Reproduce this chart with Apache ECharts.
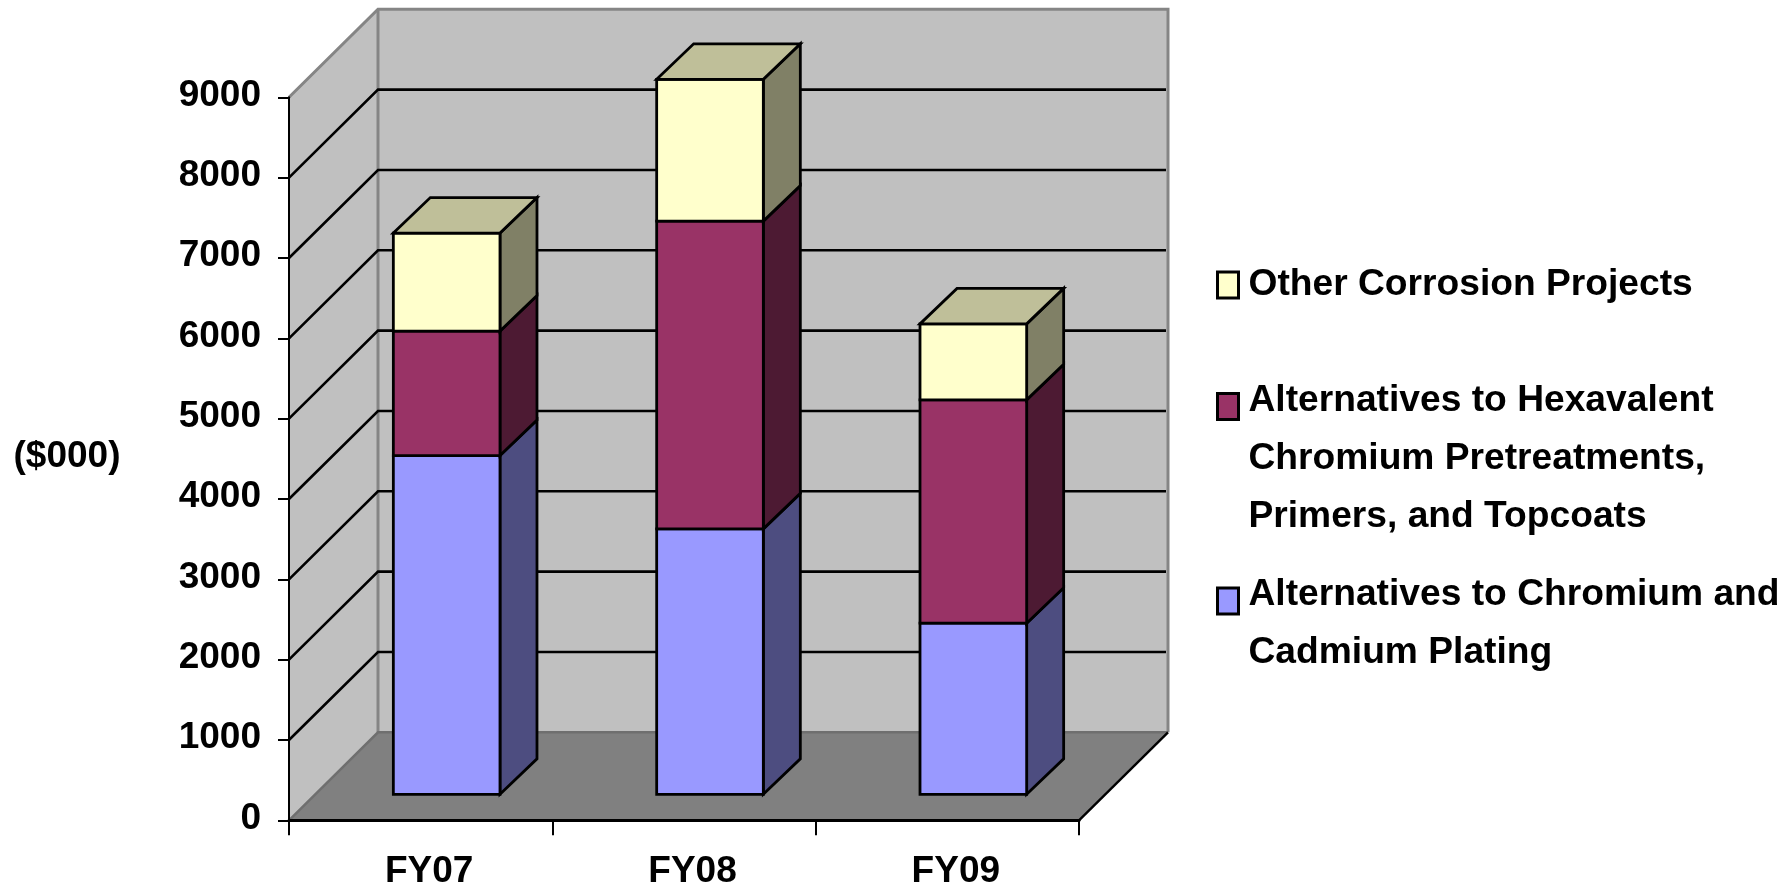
<!DOCTYPE html>
<html><head><meta charset="utf-8">
<style>html,body{margin:0;padding:0;background:#fff}#c{width:1784px;height:886px}</style>
<script src="https://cdn.jsdelivr.net/npm/echarts@6/dist/echarts.min.js"></script>
</head><body><div id="c"></div>
<script>
const categories = ['FY07', 'FY08', 'FY09'];
const yTicks = [0, 1000, 2000, 3000, 4000, 5000, 6000, 7000, 8000, 9000];
const platingValues = [4217, 3304, 2130];
const hexavalentValues = [1549, 3831, 2780];
const otherValues = [1220, 1765, 946];
const platingName = 'Alternatives to Chromium and Cadmium Plating';
const hexavalentName = 'Alternatives to Hexavalent Chromium Pretreatments, Primers, and Topcoats';
const otherName = 'Other Corrosion Projects';
const platingLines = ['Alternatives to Chromium and', 'Cadmium Plating'];
const hexavalentLines = ['Alternatives to Hexavalent', 'Chromium Pretreatments,', 'Primers, and Topcoats'];
const otherLines = ['Other Corrosion Projects'];

const FONT = '"Liberation Sans", Arial, sans-serif';
const FS = 37;
const WALL_DX = 89, WALL_DY = 88;
const BAR_SHIFT = 26, BAR_DX = 37, BAR_DY = 35.5, BAR_W = 0.405;

function plane(api) {
  const band = api.size([1, 0])[0];
  const l = api.coord([0, 0])[0] - band / 2;
  const r = api.coord([2, 0])[0] + band / 2;
  return { l, r, y0: api.coord([0, 0])[1], yT: api.coord([0, 9000])[1] };
}
function renderWalls(params, api) {
  const { l, r, y0, yT } = plane(api);
  const dx = WALL_DX, dy = WALL_DY;
  const edge = { stroke: '#858585', lineWidth: 3, fill: null };
  return { type: 'group', children: [
    { type: 'polygon', shape: { points: [[l + dx, yT - dy], [r + dx, yT - dy], [r + dx, y0 - dy], [l + dx, y0 - dy]] }, style: { fill: '#C0C0C0' } },
    { type: 'polygon', shape: { points: [[l, yT], [l + dx, yT - dy], [l + dx, y0 - dy], [l, y0]] }, style: { fill: '#C0C0C0' } },
    { type: 'polygon', shape: { points: [[l, y0], [r, y0], [r + dx, y0 - dy], [l + dx, y0 - dy]] }, style: { fill: '#808080' } },
    { type: 'polyline', shape: { points: [[l, yT], [l + dx, yT - dy], [r + dx, yT - dy], [r + dx, y0 - dy]] }, style: edge },
    { type: 'line', shape: { x1: l + dx, y1: yT - dy, x2: l + dx, y2: y0 - dy }, style: edge },
    { type: 'polyline', shape: { points: [[l, y0], [l + dx, y0 - dy], [r + dx, y0 - dy]] }, style: { stroke: '#6f6f6f', lineWidth: 2.5, fill: null } },
    { type: 'line', shape: { x1: r + dx, y1: y0 - dy, x2: r, y2: y0 }, style: { stroke: '#000', lineWidth: 2.4 } }
  ] };
}
function renderGrid(params, api) {
  const { l, r } = plane(api);
  const y = api.coord([0, api.value(0)])[1];
  return { type: 'polyline', shape: { points: [[l, y], [l + WALL_DX, y - WALL_DY], [r + WALL_DX - 2, y - WALL_DY]] },
    style: { stroke: '#000', lineWidth: 2.6, fill: null } };
}
function barRenderer(front, side, topColor) {
  return function (params, api) {
    const band = api.size([1, 0])[0];
    const c = api.coord([api.value(0), 0])[0];
    const w = band * BAR_W;
    const x1 = c + BAR_SHIFT - w / 2, x2 = x1 + w;
    const yL = api.coord([0, api.value(1)])[1] - BAR_SHIFT;
    const yH = api.coord([0, api.value(2)])[1] - BAR_SHIFT;
    const line = { stroke: '#000', lineWidth: 2.8, lineJoin: 'miter' };
    const kids = [
      { type: 'polygon', shape: { points: [[x2, yH], [x2 + BAR_DX, yH - BAR_DY], [x2 + BAR_DX, yL - BAR_DY], [x2, yL]] }, style: { fill: side, ...line } },
      { type: 'rect', shape: { x: x1, y: yH, width: w, height: yL - yH }, style: { fill: front, ...line } }
    ];
    if (topColor) kids.push({ type: 'polygon', shape: { points: [[x1, yH], [x1 + BAR_DX, yH - BAR_DY], [x2 + BAR_DX, yH - BAR_DY], [x2, yH]] }, style: { fill: topColor, ...line } });
    return { type: 'group', children: kids };
  };
}
function stacked(values, below) {
  return values.map((v, i) => [i, below[i], below[i] + v]);
}
const zero = categories.map(() => 0);
const toHex = platingValues;
const toOther = platingValues.map((v, i) => v + hexavalentValues[i]);

function legendFor(name, lines, top, blank) {
  const text = (blank ? '{b|\u00a0}\n' : '') + lines.map(s => '{t|' + s + '}').join('\n');
  return {
    data: [name], left: 1216, top, padding: 0, orient: 'vertical', selectedMode: false,
    itemWidth: 21, itemHeight: 26, icon: 'rect',
    itemStyle: { color: 'inherit', borderColor: '#000', borderWidth: 3 },
    formatter: () => text,
    textStyle: { fontFamily: FONT, fontSize: 37.2, fontWeight: 'bold', color: '#000',
      rich: {
        t: { fontFamily: FONT, fontSize: 37.2, fontWeight: 'bold', color: '#000', lineHeight: 58, padding: [0, 0, 0, 5] },
        b: { fontSize: 10, lineHeight: blank || 1, height: blank || 1 }
      } }
  };
}

const option = {
  animation: false,
  backgroundColor: '#fff',
  grid: { left: 289, right: 705, top: 97.3, bottom: 65.7, outerBoundsMode: 'none' },
  legend: [
    legendFor(otherName, otherLines, 266.6, 0),
    legendFor(hexavalentName, hexavalentLines, 267.4, 104),
    legendFor(platingName, platingLines, 520, 46)
  ],
  xAxis: {
    type: 'category', data: categories, z: 10,
    axisLine: { lineStyle: { color: '#000', width: 3 } },
    axisTick: { show: true, alignWithLabel: false, length: 15, lineStyle: { color: '#000', width: 2 } },
    axisLabel: { color: '#000', fontFamily: FONT, fontSize: FS, fontWeight: 'bold', margin: 33, padding: [0, 0, 0, 17] }
  },
  yAxis: {
    type: 'value', min: 0, max: 9000, interval: 1000, z: 10,
    name: '($000)', nameLocation: 'middle', nameRotate: 0, nameGap: 168.5,
    nameTextStyle: { color: '#000', fontFamily: FONT, fontSize: FS, fontWeight: 'bold', verticalAlign: 'top', padding: [-21, 0, 0, 0] },
    axisLine: { show: true, lineStyle: { color: '#000', width: 2 } },
    axisTick: { show: true, length: 11, lineStyle: { color: '#000', width: 2 } },
    axisLabel: { color: '#000', fontFamily: FONT, fontSize: FS, fontWeight: 'bold', margin: 28, verticalAlign: 'top', padding: [-20.5, 0, 0, 0], formatter: v => String(v) },
    splitLine: { show: false }
  },
  series: [
    { type: 'custom', z: 1, clip: false, silent: true, coordinateSystem: 'cartesian2d', data: [[0, 0]], renderItem: renderWalls },
    { type: 'custom', z: 1, clip: false, silent: true, coordinateSystem: 'cartesian2d', data: yTicks.slice(1, 9).map(v => [v]), encode: { y: 0 }, renderItem: renderGrid },
    { name: platingName, type: 'custom', z: 2, clip: false, itemStyle: { color: '#9999FF' }, encode: { x: 0, y: [1, 2] },
      data: stacked(platingValues, zero), renderItem: barRenderer('#9999FF', '#4D4D80') },
    { name: hexavalentName, type: 'custom', z: 3, clip: false, itemStyle: { color: '#993366' }, encode: { x: 0, y: [1, 2] },
      data: stacked(hexavalentValues, toHex), renderItem: barRenderer('#993366', '#4D1A33') },
    { name: otherName, type: 'custom', z: 4, clip: false, itemStyle: { color: '#FFFFCC' }, encode: { x: 0, y: [1, 2] },
      data: stacked(otherValues, toOther), renderItem: barRenderer('#FFFFCC', '#808066', '#BFBF99') }
  ]
};
echarts.init(document.getElementById('c')).setOption(option);
</script></body></html>
